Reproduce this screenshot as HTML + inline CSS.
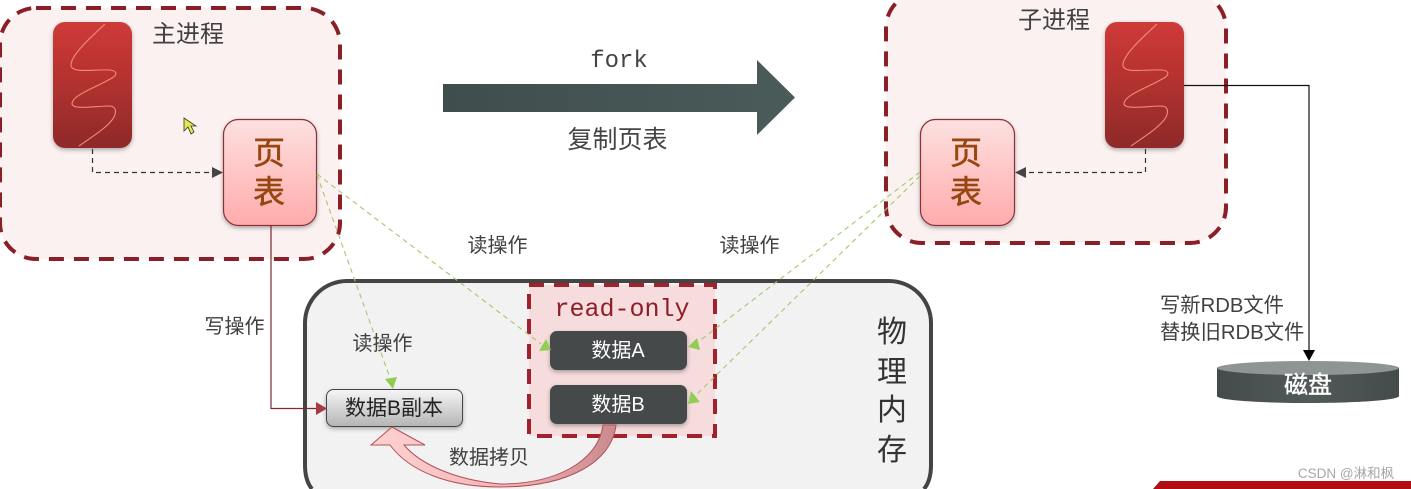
<!DOCTYPE html>
<html lang="zh">
<head>
<meta charset="utf-8">
<style>
html,body{margin:0;padding:0;background:#fff;width:1411px;height:489px;overflow:hidden}
svg{display:block;filter:blur(.35px)}
text{font-family:"Liberation Sans","Noto Sans CJK SC",sans-serif}
.m{font-family:"Liberation Mono","DejaVu Sans Mono",monospace}
</style>
</head>
<body>
<svg width="1411" height="489" viewBox="0 0 1411 489" xmlns="http://www.w3.org/2000/svg">
<defs>
<linearGradient id="red" x1="0" y1="0" x2="0" y2="1"><stop offset="0" stop-color="#ce3b39"/><stop offset=".4" stop-color="#b83230"/><stop offset="1" stop-color="#8e2a2a"/></linearGradient>
<linearGradient id="pink" x1="0" y1="0" x2="0" y2="1"><stop offset="0" stop-color="#fde0e0"/><stop offset="1" stop-color="#ffabab"/></linearGradient>
<linearGradient id="gray" x1="0" y1="0" x2="0" y2="1"><stop offset="0" stop-color="#f6f6f6"/><stop offset="1" stop-color="#b4b4b4"/></linearGradient>
<linearGradient id="arr" x1="0" y1="0" x2="1" y2="0"><stop offset="0" stop-color="#404d4d"/><stop offset="1" stop-color="#4a5b5a"/></linearGradient>
<linearGradient id="curve" x1="1" y1="0" x2="0" y2="0"><stop offset="0" stop-color="#c98a8e"/><stop offset=".5" stop-color="#f4b8b8"/><stop offset="1" stop-color="#ffd2d2"/></linearGradient>
<linearGradient id="disk" x1="0" y1="0" x2="1" y2="0"><stop offset="0" stop-color="#444c4b"/><stop offset=".5" stop-color="#525a59"/><stop offset="1" stop-color="#444c4b"/></linearGradient>
<filter id="sh" x="-20%" y="-20%" width="140%" height="140%"><feDropShadow dx="0" dy="2" stdDeviation="2" flood-color="#000" flood-opacity=".3"/></filter>
<path id="sq" d="M105 24C90 38 71 55 71 65C71 74 95 69 110 70C118 71 117 75 112 78C95 88 72 95 72 104C73 110 95 106 110 106C118 107 116 115 112 120C104 130 90 138 79 146" fill="none" stroke="#f28a78" stroke-width="1.100"/>
</defs>

<!-- process containers -->
<rect x="0" y="8" width="340" height="251" rx="36" fill="#fbf1f1" stroke="#8a1f28" stroke-width="4" stroke-dasharray="15 10"/>
<rect x="886" y="-8" width="340" height="251" rx="36" fill="#fbf1f1" stroke="#8a1f28" stroke-width="4" stroke-dasharray="15 10"/>

<!-- memory -->
<path d="M312 489C307 483 305 475 305 465V323A42 42 0 0 1 347 281H889A42 42 0 0 1 931 323V465C931 475 929 483 924 489Z" fill="#f2f2f2"/>
<path d="M312 489C307 483 305 475 305 465V323A42 42 0 0 1 347 281H889A42 42 0 0 1 931 323V465C931 475 929 483 924 489" fill="none" stroke="#444" stroke-width="4"/>
<rect x="529" y="285" width="186" height="151" fill="#f6dcdc" stroke="#a0222c" stroke-width="4" stroke-dasharray="15 10"/>

<!-- red process blocks -->
<rect x="53" y="22" width="79" height="126" rx="12" fill="url(#red)" filter="url(#sh)"/>
<use href="#sq"/>
<rect x="1105" y="22" width="79" height="126" rx="12" fill="url(#red)" filter="url(#sh)"/>
<use href="#sq" transform="translate(1052 0)"/>

<!-- dashed internal arrows -->
<path d="M92.500 149V172.500H212" fill="none" stroke="#333" stroke-width="1.200" stroke-dasharray="5 4"/>
<path d="M212 167L223 172.500L212 178Z" fill="#444"/>
<path d="M1145.500 149V172.500H1026" fill="none" stroke="#333" stroke-width="1.200" stroke-dasharray="5 4"/>
<path d="M1026 167L1015 172.500L1026 178Z" fill="#444"/>

<!-- page tables -->
<rect x="223.500" y="119.500" width="93" height="106" rx="15" fill="url(#pink)" stroke="#8b3038" stroke-width="1.200" filter="url(#sh)"/>
<rect x="920.500" y="119.500" width="94" height="106" rx="15" fill="url(#pink)" stroke="#8b3038" stroke-width="1.200" filter="url(#sh)"/>
<g font-size="32" fill="#96460f" stroke="#96460f" stroke-width=".5" text-anchor="middle">
<text x="269" y="164">页</text>
<text x="269" y="203">表</text>
<text x="966" y="164">页</text>
<text x="966" y="203">表</text>
</g>

<!-- fork arrow -->
<path d="M443 84H757V60L795 97.500L757 135V112H443Z" fill="url(#arr)"/>
<text x="619" y="67" class="m" font-size="24" fill="#444" text-anchor="middle">fork</text>
<text x="617.500" y="148" font-size="25" fill="#444" text-anchor="middle">复制页表</text>

<!-- data blocks -->
<rect x="550" y="331" width="137" height="39" rx="7" fill="#454a49" filter="url(#sh)"/>
<rect x="550" y="385" width="137" height="39" rx="7" fill="#454a49" filter="url(#sh)"/>
<text x="618" y="357" font-size="20" fill="#fff" text-anchor="middle">数据A</text>
<text x="618" y="411" font-size="20" fill="#fff" text-anchor="middle">数据B</text>
<rect x="326.500" y="389.500" width="136" height="37" rx="7" fill="url(#gray)" stroke="#444" stroke-width="1" filter="url(#sh)"/>
<text x="394" y="415" font-size="21" fill="#222" text-anchor="middle">数据B副本</text>

<!-- green dashed -->
<g fill="none" stroke="#a3c86c" stroke-width="1.100" stroke-dasharray="5 4">
<path d="M317 174L541 344"/>
<path d="M317 175L390 378"/>
<path d="M920 172L698 342"/>
<path d="M920 176L697 394"/>
</g>
<g fill="#92cc55">
<path d="M551 350L539 351L546 339Z"/>
<path d="M393 389L385 379L397 377Z"/>
<path d="M688 347L697 338L700 350Z"/>
<path d="M688 404L691 391L700 402Z"/>
</g>

<!-- write op -->
<path d="M271 225V408.500H316" fill="none" stroke="#7a2a30" stroke-width="1.200"/>
<path d="M316 402L327 408.500L316 415Z" fill="#a83a42"/>

<!-- copy curve -->
<path d="M603 425H616C612 462 568 487 500 487C450 487 410 472 390 445H371L392 427L425 445H404C420 464 455 480 500 484C555 484 598 462 603 425Z" fill="url(#curve)" stroke="#b3505a" stroke-width="1"/>

<!-- rdb line -->
<path d="M1184 85.500H1309V352" fill="none" stroke="#111" stroke-width="1.200"/>
<path d="M1303 350H1315L1309 361Z" fill="#000"/>

<!-- disk -->
<path d="M1217 368V396C1217 400 1258 403 1308 403C1358 403 1399 400 1399 396V368Z" fill="url(#disk)"/>
<ellipse cx="1308" cy="368" rx="91" ry="7" fill="#8f9594"/>
<text x="1308" y="393" font-size="24" fill="#fff" stroke="#fff" stroke-width=".4" text-anchor="middle">磁盘</text>

<!-- labels -->
<text x="188" y="42" font-size="24" fill="#404040" text-anchor="middle">主进程</text>
<text x="1054" y="28" font-size="24" fill="#404040" text-anchor="middle">子进程</text>
<text x="497.500" y="252" font-size="20" fill="#404040" text-anchor="middle">读操作</text>
<text x="749.500" y="252" font-size="20" fill="#404040" text-anchor="middle">读操作</text>
<text x="382.500" y="350" font-size="20" fill="#404040" text-anchor="middle">读操作</text>
<text x="234.500" y="333" font-size="20" fill="#404040" text-anchor="middle">写操作</text>
<text x="489" y="464" font-size="20" fill="#404040" text-anchor="middle">数据拷贝</text>
<text x="622" y="316" class="m" font-size="25" fill="#8f1d26" text-anchor="middle">read-only</text>
<text x="892" y="342" font-size="30" fill="#333" text-anchor="middle">物</text>
<text x="892" y="382" font-size="30" fill="#333" text-anchor="middle">理</text>
<text x="892" y="420" font-size="30" fill="#333" text-anchor="middle">内</text>
<text x="892" y="460" font-size="30" fill="#333" text-anchor="middle">存</text>
<text x="1160" y="312" font-size="20.300" fill="#404040">写新RDB文件</text>
<text x="1160" y="339" font-size="20.300" fill="#404040">替换旧RDB文件</text>

<!-- mouse cursor -->
<path d="M184 118V131L188 127L191 134L194 132L191 126L196 126Z" fill="#e2e84a" stroke="#333" stroke-width=".8"/>

<!-- bottom right banner -->
<path d="M1160 481H1411V489H1153Z" fill="#b30d14"/>
<text x="1346" y="478" font-size="13.500" fill="#a6a6a6" text-anchor="middle">CSDN @淋和枫</text>
</svg>
</body>
</html>
